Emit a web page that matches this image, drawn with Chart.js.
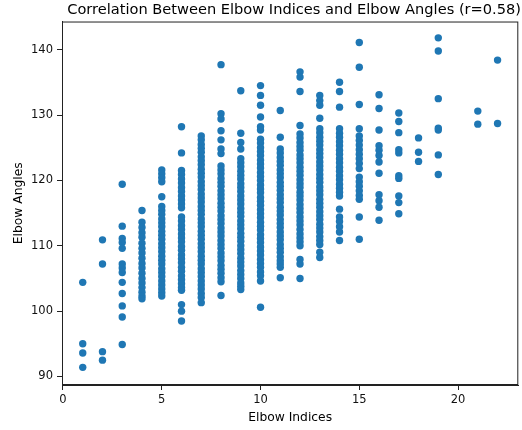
<!DOCTYPE html>
<html>
<head>
<meta charset="utf-8">
<script src="https://cdn.jsdelivr.net/npm/chart.js@4.4.1/dist/chart.umd.min.js"></script>
<style>
  html, body { margin: 0; padding: 0; background: #fff; }
  #wrap { width: 522px; height: 430px; }
</style>
</head>
<body>
<div id="wrap"><canvas id="chart" width="522" height="430"></canvas></div>
<script>
/* ── Data ── */
const elbowIndices = [1, 2, 3, 4, 5, 6, 7, 8, 9, 10, 11, 12, 13, 14, 15, 16, 17, 18, 19, 21, 22];
const xTicks = [0, 5, 10, 15, 20];
const yTicks = [90, 100, 110, 120, 130, 140];

const a1 = [104.4, 95.0, 93.6, 91.4];
const a2 = [110.9, 107.2, 93.8, 92.5];
const a3 = [119.4, 113.0, 111.1, 110.5, 109.6, 107.2, 106.6, 105.9, 104.4, 102.7, 100.8, 99.1, 94.9];
const a4 = [115.4, 113.6, 112.8, 112.0, 111.3, 110.4, 109.6, 108.9, 108.1, 107.3, 106.6, 105.8, 105.0, 104.3, 103.6, 102.9, 102.3, 101.9];
const a5 = [121.6, 121.0, 120.4, 119.8, 117.5, 116.0, 115.4, 114.8, 114.1, 113.5, 112.9, 112.2, 111.6, 111.0, 110.3, 109.7,
            109.1, 108.4, 107.8, 107.2, 106.5, 105.9, 105.3, 104.6, 104.0, 103.4, 102.8, 102.3];
const a6 = [128.2, 124.2, 121.5, 120.9, 120.2, 119.6, 118.9, 118.3, 117.6, 117.0, 116.4, 115.8, 114.4, 113.8, 113.1, 112.5,
            111.8, 111.2, 110.6, 109.9, 109.3, 108.6, 108.0, 107.4, 106.7, 106.1, 105.4, 104.8, 104.2, 103.6, 103.2, 101.0, 100.0, 98.5];
const a7 = [126.8, 126.2, 125.5, 124.9, 124.3, 123.6, 123.0, 122.4, 121.7, 121.1, 120.5, 119.8, 119.2, 118.6, 117.9, 117.3,
            116.7, 116.0, 115.4, 114.8, 114.1, 113.5, 112.9, 112.2, 111.6, 111.0, 110.3, 109.7, 109.1, 108.4, 107.8, 107.2,
            106.5, 105.9, 105.3, 104.6, 104.0, 103.4, 102.7, 102.1, 101.3];
const a8 = [137.7, 130.2, 129.4, 127.6, 126.2, 124.8, 124.1, 122.2, 121.6, 121.0, 120.3, 119.7, 119.1, 118.4, 117.8, 117.2,
            116.5, 115.9, 115.3, 114.6, 114.0, 113.4, 112.7, 112.1, 111.5, 110.8, 110.2, 109.6, 108.9, 108.3, 107.7, 107.0,
            106.4, 105.8, 105.1, 104.5, 102.4];
const a9 = [133.7, 127.2, 125.8, 124.8, 123.3, 122.7, 122.1, 121.4, 120.8, 120.2, 119.5, 118.9, 118.3, 117.6, 117.0, 116.4,
            115.7, 115.1, 114.5, 113.8, 113.2, 112.6, 111.9, 111.3, 110.7, 110.0, 109.4, 108.8, 108.1, 107.5, 106.9, 106.2,
            105.6, 105.0, 104.3, 103.8, 103.3];
const a10 = [134.5, 133.0, 131.5, 129.7, 128.2, 127.7, 126.3, 125.7, 125.0, 124.4, 123.8, 123.1, 122.5, 121.9, 121.2, 120.6,
             120.0, 119.3, 118.7, 118.1, 117.4, 116.8, 116.2, 115.5, 114.9, 114.3, 113.6, 113.0, 112.4, 111.7, 111.1, 110.5,
             109.8, 109.2, 108.6, 107.9, 107.3, 106.7, 106.0, 105.4, 104.6, 100.6];
const a11 = [130.7, 126.6, 124.8, 124.2, 123.5, 122.9, 122.3, 121.6, 121.0, 120.4, 119.7, 119.1, 118.5, 117.8, 117.2, 116.6,
             115.9, 115.3, 114.7, 114.0, 113.4, 112.8, 112.1, 111.5, 110.9, 110.2, 109.6, 109.0, 108.3, 107.7, 107.2, 106.7, 105.1];
const a12 = [136.6, 135.8, 133.6, 128.4, 127.1, 126.5, 125.8, 125.2, 124.6, 123.9, 123.3, 122.7, 122.0, 121.4, 120.8, 120.1,
             119.5, 118.9, 118.2, 117.6, 117.0, 116.3, 115.7, 115.1, 114.4, 113.8, 113.2, 112.5, 111.8, 111.2, 110.6, 110.0,
             107.9, 107.2, 105.0];
const a13 = [133.0, 132.2, 131.5, 129.5, 127.9, 127.3, 126.6, 126.0, 125.4, 124.7, 124.1, 123.5, 122.8, 122.2, 121.6, 120.9,
             120.3, 119.7, 119.0, 118.4, 117.8, 117.1, 116.5, 115.9, 115.2, 114.6, 114.0, 113.3, 112.7, 112.1, 111.4, 110.8,
             110.2, 109.0, 108.2];
const a14 = [135.0, 133.6, 131.2, 127.9, 127.2, 126.6, 125.9, 125.3, 124.6, 124.0, 123.3, 122.7, 122.0, 121.4, 120.7, 120.1,
             119.4, 118.8, 118.2, 117.6, 115.6, 114.4, 113.7, 112.9, 112.1, 110.8];
const a15 = [141.1, 137.3, 131.6, 127.9, 126.8, 126.1, 125.4, 124.7, 124.0, 123.3, 122.6, 121.8, 120.5, 119.8, 119.1, 118.4,
             117.7, 117.1, 114.4, 111.0];
const a16 = [133.1, 131.0, 127.7, 125.3, 124.6, 123.8, 122.8, 121.1, 117.8, 116.9, 115.9, 113.9];
const a17 = [130.3, 129.0, 127.3, 124.7, 124.2, 120.7, 120.3, 117.6, 116.6, 114.9];
const a18 = [126.5, 124.3, 122.9];
const a19 = [141.8, 139.8, 132.5, 128.0, 127.7, 123.9, 120.9];
const a21 = [130.6, 128.6];
const a22 = [138.4, 128.7];

const angleSeries = [a1, a2, a3, a4, a5, a6, a7, a8, a9, a10, a11, a12, a13, a14, a15, a16, a17, a18, a19, a21, a22];

/* ── Chart ── */
(function () {
  const font = "'DejaVu Sans', sans-serif";
  Chart.defaults.font.family = font;
  Chart.defaults.color = '#000';

  const points = angleSeries.flatMap((col, i) => col.map(v => ({ x: elbowIndices[i], y: v })));

  // matplotlib style box around the axes
  const frame = {
    id: 'frame',
    afterDraw(chart) {
      const { ctx, chartArea: a } = chart;
      ctx.save();
      ctx.strokeStyle = '#222';
      ctx.lineWidth = 1;
      ctx.strokeRect(a.left + 0.5, a.top + 0.5, a.right - a.left - 1, a.bottom - a.top - 1);
      ctx.restore();
    }
  };

  new Chart(document.getElementById('chart'), {
    type: 'scatter',
    data: {
      datasets: [{
        data: points,
        backgroundColor: '#1f77b4',
        borderWidth: 0,
        pointRadius: 3.7,
        pointHoverRadius: 3.7,
      }]
    },
    options: {
      responsive: false,
      animation: false,
      layout: { padding: { left: 0, right: 1, top: 0, bottom: 0 } },
      plugins: {
        legend: { display: false },
        tooltip: { enabled: false },
        title: {
          display: true,
          text: 'Correlation Between Elbow Indices and Elbow Angles (r=0.58)',
          font: { size: 14.6, weight: 'normal', family: font },
          color: '#000',
          padding: { top: 1, bottom: 3 },
          align: 'end'
        }
      },
      scales: {
        x: {
          type: 'linear',
          min: -0.05, max: 23.05,
          afterBuildTicks: s => { s.ticks = xTicks.map(v => ({ value: v })); },
          afterFit: s => { s.height = 45; },
          grid: { drawOnChartArea: false, drawTicks: true, tickLength: 5, color: '#222' },
          border: { display: true, color: '#222' },
          ticks: { font: { size: 11.5 }, padding: 3, color: '#111' },
          title: { display: true, text: 'Elbow Indices', font: { size: 12.3 }, padding: { top: 0, bottom: 5 } }
        },
        y: {
          type: 'linear',
          min: 88.7, max: 144.3,
          afterBuildTicks: s => { s.ticks = yTicks.map(v => ({ value: v })); },
          afterFit: s => { s.width = 62; },
          grid: { drawOnChartArea: false, drawTicks: true, tickLength: 5, color: '#222' },
          border: { display: true, color: '#222' },
          ticks: { font: { size: 11.5 }, padding: 4, color: '#111' },
          title: { display: true, text: 'Elbow Angles', font: { size: 12.3 }, padding: { top: 11, bottom: 0 } }
        }
      }
    },
    plugins: [frame]
  });
})();
</script>
</body>
</html>
